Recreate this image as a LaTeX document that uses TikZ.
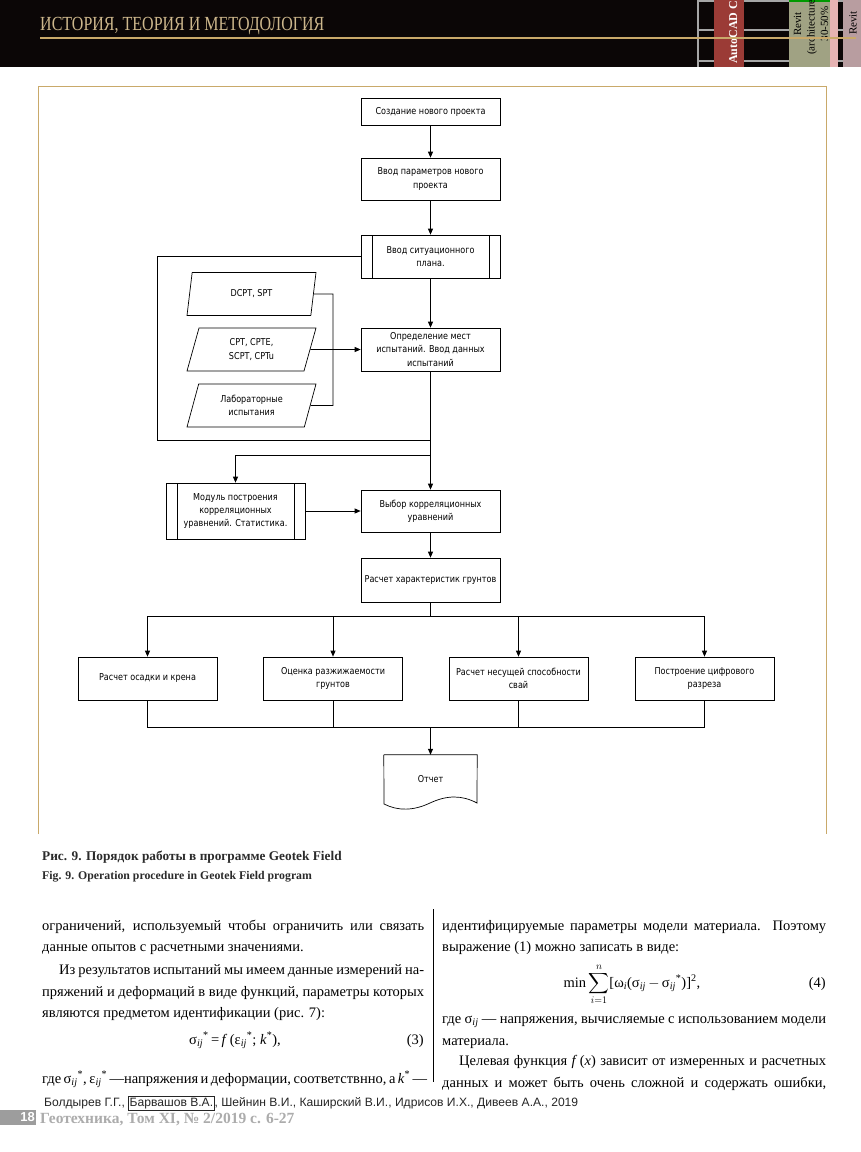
\documentclass[tikz,border=0pt]{standalone}
\usepackage{fontspec}
\usepackage{amsmath}
\setmainfont{Liberation Serif}
\newfontfamily\flowfont[FakeStretch=0.85]{DejaVu Sans}
\newfontfamily\hdrfont[FakeStretch=0.8]{Liberation Serif}
\newfontfamily\footfont{Liberation Sans}
\usetikzlibrary{arrows.meta,shapes.geometric,positioning}

\definecolor{gold}{HTML}{C9A96A}
\definecolor{hdrbg}{HTML}{0B0606}
\definecolor{hdrtan}{HTML}{CDB78C}
\definecolor{autored}{HTML}{9B3B36}
\definecolor{revitolive}{HTML}{A0A283}
\definecolor{revitpink}{HTML}{E6B3B3}
\definecolor{revitmauve}{HTML}{B89DA0}
\definecolor{capgray}{HTML}{2B2B2B}
\definecolor{pagegray}{HTML}{9D9D9D}

\newcommand{\jl}[1]{\makebox[382pt][s]{#1}}
\newcommand{\jr}[1]{\makebox[384pt][s]{#1}}
\newcommand{\sub}[1]{\textsubscript{\itshape #1}}
\setlength{\fboxsep}{1pt}

\tikzset{
  proc/.style={draw, line width=0.7pt, minimum width=139pt, minimum height=43pt,
    inner sep=1pt, align=center, font=\flowfont\fontsize{9.5}{13.4}\selectfont},
  subr/.style={proc, path picture={
    \draw[line width=0.7pt] ([xshift=11pt]path picture bounding box.north west)
      -- ([xshift=11pt]path picture bounding box.south west);
    \draw[line width=0.7pt] ([xshift=-11pt]path picture bounding box.north east)
      -- ([xshift=-11pt]path picture bounding box.south east);}},
  inp/.style={proc, trapezium, trapezium left angle=63, trapezium right angle=117,
    trapezium stretches body, minimum width=129pt},
  link/.style={line width=0.7pt},
  arr/.style={link, -{Triangle[length=6pt,width=5pt]}},
  body/.style={anchor=base west, inner sep=0pt, font=\fontsize{14.5}{17}\selectfont},
}

\begin{document}
\begin{tikzpicture}[x=1pt,y=-1pt]
  \useasboundingbox (0,0) rectangle (861,1152);
  \fill[white] (0,0) rectangle (861,1152);

  %Header
  \fill[hdrbg] (0,0) rectangle (861,67);
  \node[anchor=base west, inner sep=0pt, text=hdrtan,
    font=\hdrfont\fontsize{20}{20}\selectfont] (hdr) at (40,30) {ИСТОРИЯ, ТЕОРИЯ И МЕТОДОЛОГИЯ};
  \begin{scope}
    \clip (690,0) rectangle (861,67);
    \draw[gray!70, line width=1.2pt] (698,0) -- (698,67);
    \foreach \y in {1,30,61}
      \draw[gray!70, line width=1.2pt] (698,\y) -- (861,\y);
    \fill[autored] (714,0) rectangle (744,67);
    \node[rotate=90, anchor=west, inner sep=0pt, text=white,
      font=\bfseries\fontsize{12}{12}\selectfont] (acad) at (733,64) {AutoCAD Ci};
    \fill[revitolive] (789,0) rectangle (830,67);
    \fill[green!60!black] (789,0) rectangle (830,2);
    \node[rotate=90, align=center, inner sep=0pt,
      font=\fontsize{11}{13.5}\selectfont] (rev1) at (811,24) {Revit\\(architecture),\\30-50\%};
    \fill[revitpink] (830,0) rectangle (838,67);
    \fill[revitmauve] (843,0) rectangle (861,67);
    \node[rotate=90, inner sep=0pt, font=\fontsize{11}{11}\selectfont] (rev2) at (853,23) {Revit};
  \end{scope}
  \draw[gold, line width=1.3pt] (40,38) -- (856,38);

  %Frame
  \draw[gold, line width=0.8pt] (38,834) -- (38,86) -- (826,86) -- (826,834);

  %Flowchart
  \node[proc, minimum height=27pt] (new) at (430.5,111.5) {Создание нового проекта};
  \node[proc, minimum height=42pt] (par) at (430.5,179) {Ввод параметров нового\\проекта};
  \node[subr] (sit) at (430.5,256.5) {Ввод ситуационного\\плана.};
  \node[inp] (dcpt) at (251.5,294) {DCPT, SPT};
  \node[inp] (cpt) at (251.5,349.5) {CPT, CPTE,\\SCPT, CPTu};
  \node[inp] (lab) at (251.5,405.5) {Лабораторные\\испытания};
  \node[proc] (opr) at (430.5,349.5) {Определение мест\\испытаний. Ввод данных\\испытаний};
  \node[subr, minimum height=56pt] (mod) at (235.5,511) {Модуль построения\\корреляционных\\уравнений. Статистика.};
  \node[proc, minimum height=42pt] (vyb) at (430.5,511) {Выбор корреляционных\\уравнений};
  \node[proc, minimum height=44pt] (ras) at (430.5,580) {Расчет характеристик грунтов};
  \node[proc] (b1) at (147.5,678.5) {Расчет осадки и крена};
  \node[proc] (b2) at (333,678.5) {Оценка разжижаемости\\грунтов};
  \node[proc] (b3) at (518.5,678.5) {Расчет несущей способности\\свай};
  \node[proc] (b4) at (704.5,678.5) {Построение цифрового\\разреза};
  \node[minimum width=93pt, minimum height=49pt, inner sep=0pt,
    font=\flowfont\fontsize{9.5}{13.4}\selectfont] (otch) at (430.5,779.5) {Отчет};
  \draw[link] (otch.north west) -- (otch.north east) -- (477,803)
    .. controls (462,795) and (447,795) .. (430,803)
    .. controls (413,811) and (398,811) .. (384,804) -- (otch.north west);

  \coordinate (dtop) at (333,294);
  \coordinate (dbot) at (333,405.5);
  \coordinate (loopL) at (157,440);
  \coordinate (loopJ) at (430.5,440);
  \coordinate (brM) at (430.5,455);
  \coordinate (fan) at (430.5,616);
  \coordinate (col) at (430.5,727);

  \draw[arr] (new) -- (par);
  \draw[arr] (par) -- (sit);
  \draw[arr] (sit) -- (opr);
  \draw[link] (dcpt.east) -- (dtop) -- (dbot) -- (lab.east);
  \draw[arr] (cpt.east) -- (opr.west);
  \draw[link] (sit.west) -| (loopL) -- (loopJ);
  \draw[arr] (opr) -- (vyb);
  \draw[arr] (brM) -| (mod.north);
  \draw[arr] (mod) -- (vyb);
  \draw[arr] (vyb) -- (ras);
  \draw[link] (ras) -- (fan);
  \foreach \b in {b1,b2,b3,b4}
    \draw[arr] (fan) -| (\b.north);
  \foreach \b in {b1,b2,b3,b4}
    \draw[link] (\b.south) |- (col);
  \draw[arr] (col) -- (otch.north);

  %Captions
  \node[anchor=base west, inner sep=0pt, text=capgray,
    font=\bfseries\fontsize{13.3}{13.3}\selectfont] (cap1) at (42,860) {Рис. 9. Порядок работы в программе Geotek Field};
  \node[anchor=base west, inner sep=0pt, text=capgray,
    font=\bfseries\fontsize{11.8}{11.8}\selectfont] (cap2) at (42,879) {Fig. 9. Operation procedure in Geotek Field program};

  %Text, left column
  \node[body] (l1) at (42,930) {\jl{ограничений, используемый чтобы ограничить или связать}};
  \node[body] (l2) at (42,951) {данные опытов с расчетными значениями.};
  \node[body] (l3) at (42,974) {\jl{\hspace{17pt}Из результатов испытаний мы имеем данные измерений на-}};
  \node[body] (l4) at (42,996) {\jl{пряжений и деформаций в виде функций, параметры которых}};
  \node[body] (l5) at (42,1017) {являются предметом идентификации (рис. 7):};
  \node[body, anchor=base] (eq3) at (235,1044) {σ\sub{ij}\textsuperscript{*}\,=\,\textit{f}\,(ε\sub{ij}\textsuperscript{*}; \textit{k}\textsuperscript{*}),};
  \node[body, anchor=base east] (n3) at (424,1044) {(3)};
  \node[body] (l6) at (42,1083) {\jl{где σ\sub{ij}\textsuperscript{*}, ε\sub{ij}\textsuperscript{*} —напряжения и деформации, соответствнно, а \textit{k}\textsuperscript{*} —}};

  %Text, right column
  \node[body] (r1) at (442,930) {\jr{идентифицируемые параметры модели материала. Поэтому}};
  \node[body] (r2) at (442,951) {выражение (1) можно записать в виде:};
  \node[body, anchor=base] (eq4) at (632,987) {min\,$\displaystyle\sum_{i=1}^{n}$[ω\sub{i}(σ\sub{ij}\,$-$\,σ\sub{ij}\textsuperscript{*})]\textsuperscript{2},};
  \node[body, anchor=base east] (n4) at (826,987) {(4)};
  \node[body] (r3) at (442,1023) {\jr{где σ\sub{ij} — напряжения, вычисляемые с использованием модели}};
  \node[body] (r4) at (442,1045) {материала.};
  \node[body] (r5) at (442,1065) {\jr{\hspace{17pt}Целевая функция \textit{f}\,(\textit{x}) зависит от измеренных и расчетных}};
  \node[body] (r6) at (442,1087) {\jr{данных и может быть очень сложной и содержать ошибки,}};
  \draw[line width=0.8pt] (433,909) -- (433,1082);

  %Footer
  \node[anchor=base west, inner sep=0pt, text=black!85,
    font=\footfont\fontsize{12.1}{12.1}\selectfont] (auth) at (44,1106)
    {Болдырев Г.Г., \fbox{Барвашов В.А.}, Шейнин В.И., Каширский В.И., Идрисов И.Х., Дивеев А.А., 2019};
  \fill[pagegray] (0,1110) rectangle (36,1125);
  \node[anchor=east, inner sep=0pt, text=white,
    font=\footfont\bfseries\fontsize{13}{13}\selectfont] (pg) at (35,1117.5) {18};
  \node[anchor=base west, inner sep=0pt, text=gray!65,
    font=\bfseries\fontsize{15.5}{15.5}\selectfont] (jour) at (40,1123) {Геотехника, Том XI, № 2/2019 с. 6-27};
\end{tikzpicture}
\end{document}
